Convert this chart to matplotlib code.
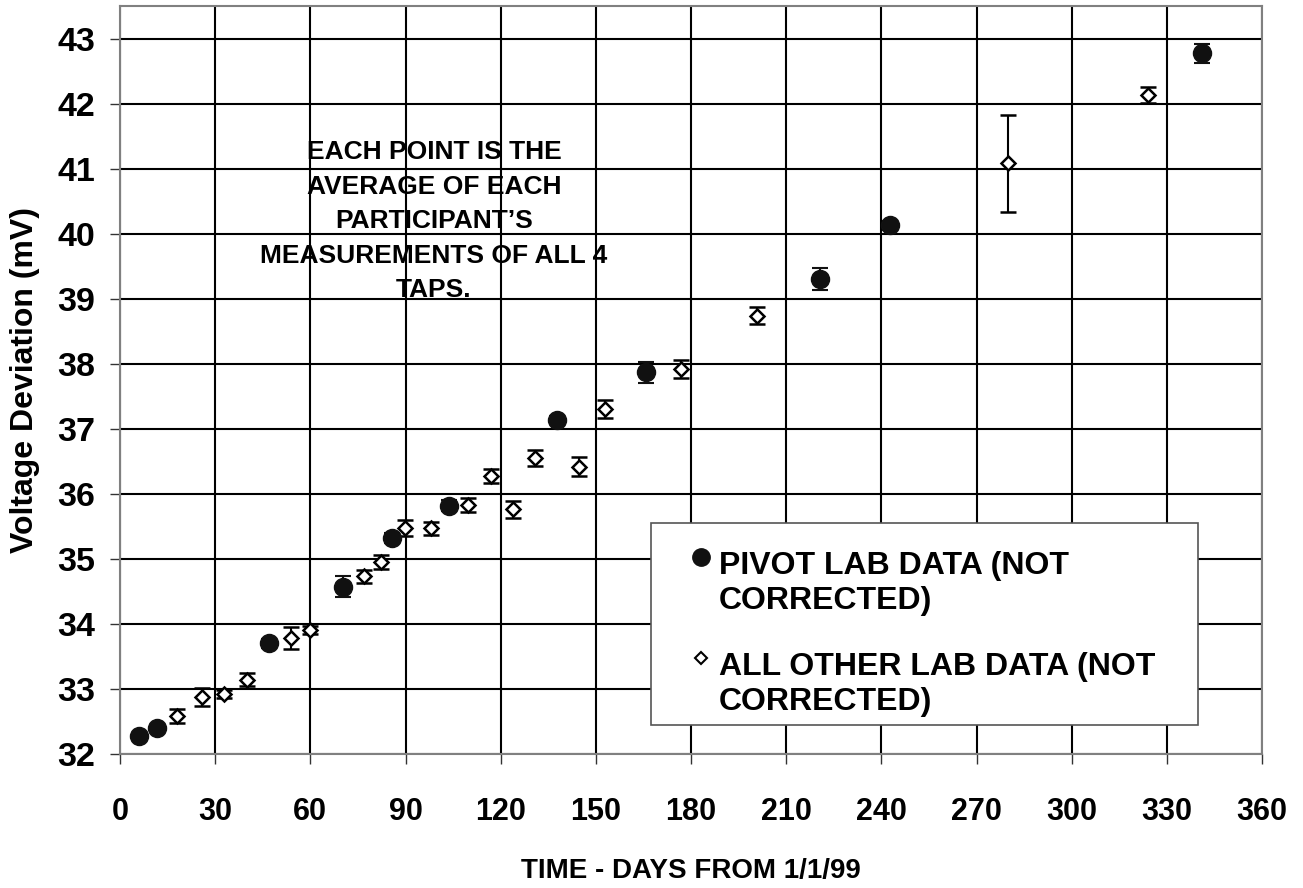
import matplotlib
matplotlib.use("Agg")
import matplotlib.pyplot as plt
from matplotlib.patches import Rectangle
from matplotlib.lines import Line2D

plt.rcParams['font.family'] = ['Liberation Sans', 'DejaVu Sans']
plt.rcParams['font.weight'] = 'bold'

# ---- data ----
pivot_days = [6.1, 11.8, 47.0, 70.4, 85.8, 103.6, 137.8, 165.8, 220.6, 242.7, 341.0]
pivot_mv = [32.28, 32.40, 33.70, 34.57, 35.32, 35.82, 37.13, 37.87, 39.30, 40.13, 42.77]
pivot_err = [0.05, 0.05, 0.07, 0.16, 0.08, 0.08, 0.06, 0.16, 0.17, 0.07, 0.15]

other_days = [18.0, 25.8, 32.8, 40.0, 53.8, 59.9, 76.9, 82.2, 89.9, 98.0, 109.8,
              117.1, 123.9, 130.9, 144.8, 153.0, 176.9, 200.8, 280.0, 324.0]
other_mv = [32.58, 32.88, 32.92, 33.14, 33.78, 33.91, 34.73, 34.95, 35.47, 35.47, 35.83,
            36.27, 35.76, 36.55, 36.42, 37.30, 37.92, 38.74, 41.08, 42.13]
other_err = [0.11, 0.135, 0.06, 0.10, 0.165, 0.06, 0.10, 0.11, 0.12, 0.10, 0.11,
             0.11, 0.125, 0.12, 0.15, 0.135, 0.14, 0.135, 0.75, 0.12]

x_ticks = [0, 30, 60, 90, 120, 150, 180, 210, 240, 270, 300, 330, 360]
y_ticks = [32, 33, 34, 35, 36, 37, 38, 39, 40, 41, 42, 43]

pivot_label = "PIVOT LAB DATA (NOT\nCORRECTED)"
other_label = "ALL OTHER LAB DATA (NOT\nCORRECTED)"
note_text = ("EACH POINT IS THE\nAVERAGE OF EACH\nPARTICIPANT\u2019S\n"
             "MEASUREMENTS OF ALL 4\nTAPS.")
x_title = "TIME - DAYS FROM 1/1/99"
y_title = "Voltage Deviation (mV)"

# ---- figure ----
fig = plt.figure(figsize=(13.03, 8.88), dpi=100)
ax = fig.add_axes([120 / 1303, 1 - 754 / 888, 1142 / 1303, 748 / 888])

ax.set_xlim(0, 360)
ax.set_ylim(32, 43.5)
ax.set_xticks(x_ticks)
ax.set_yticks(y_ticks)
ax.grid(True, color='black', linewidth=1.5, zorder=0)
ax.set_axisbelow(True)
for s in ax.spines.values():
    s.set_color('#808080')
    s.set_linewidth(1.5)

ax.tick_params(axis='both', direction='out', length=7, width=1, color='#333333')
ax.tick_params(axis='x', pad=24, labelsize=22)
ax.tick_params(axis='y', pad=11, labelsize=24.5)
for lab in ax.get_xticklabels() + ax.get_yticklabels():
    lab.set_fontweight('bold')

ax.errorbar(other_days, other_mv, yerr=other_err, fmt='D', color='black',
            markerfacecolor='white', markeredgecolor='black', markersize=7.5,
            markeredgewidth=1.8, elinewidth=1.5, capsize=5.5, capthick=1.5,
            zorder=3)
ax.errorbar(pivot_days, pivot_mv, yerr=pivot_err, fmt='o', color='#111111',
            markersize=13, elinewidth=1.5, capsize=6, capthick=1.5, zorder=4)

ax.set_xlabel(x_title, fontsize=20, fontweight='bold', labelpad=22)
ax.set_ylabel(y_title, fontsize=23, fontweight='bold', labelpad=12)

# annotation (va='baseline' anchors the last line's baseline)
ax.text(0.275, 0.611, note_text, transform=ax.transAxes, ha='center',
        va='baseline', fontsize=19, fontweight='bold', linespacing=1.55, zorder=5)

# legend (manual, to match marker placement)
ax.add_patch(Rectangle((0.465, 0.0388), 0.479, 0.2702, transform=ax.transAxes,
                       facecolor='white', edgecolor='#555555', linewidth=1.2,
                       zorder=6))
ax.add_line(Line2D([0.509], [0.263], transform=ax.transAxes, marker='o',
                   markersize=12.5, color='#111111', linestyle='none', zorder=7))
ax.add_line(Line2D([0.509], [0.128], transform=ax.transAxes, marker='D',
                   markersize=6, markerfacecolor='white', markeredgecolor='black',
                   markeredgewidth=1.5, linestyle='none', zorder=7))
ax.text(0.5245, 0.194, pivot_label, transform=ax.transAxes, ha='left',
        va='baseline', fontsize=23, fontweight='bold', linespacing=1.22, zorder=7)
ax.text(0.5245, 0.0588, other_label, transform=ax.transAxes, ha='left',
        va='baseline', fontsize=23, fontweight='bold', linespacing=1.22, zorder=7)

fig.savefig("out.png", dpi=100)
